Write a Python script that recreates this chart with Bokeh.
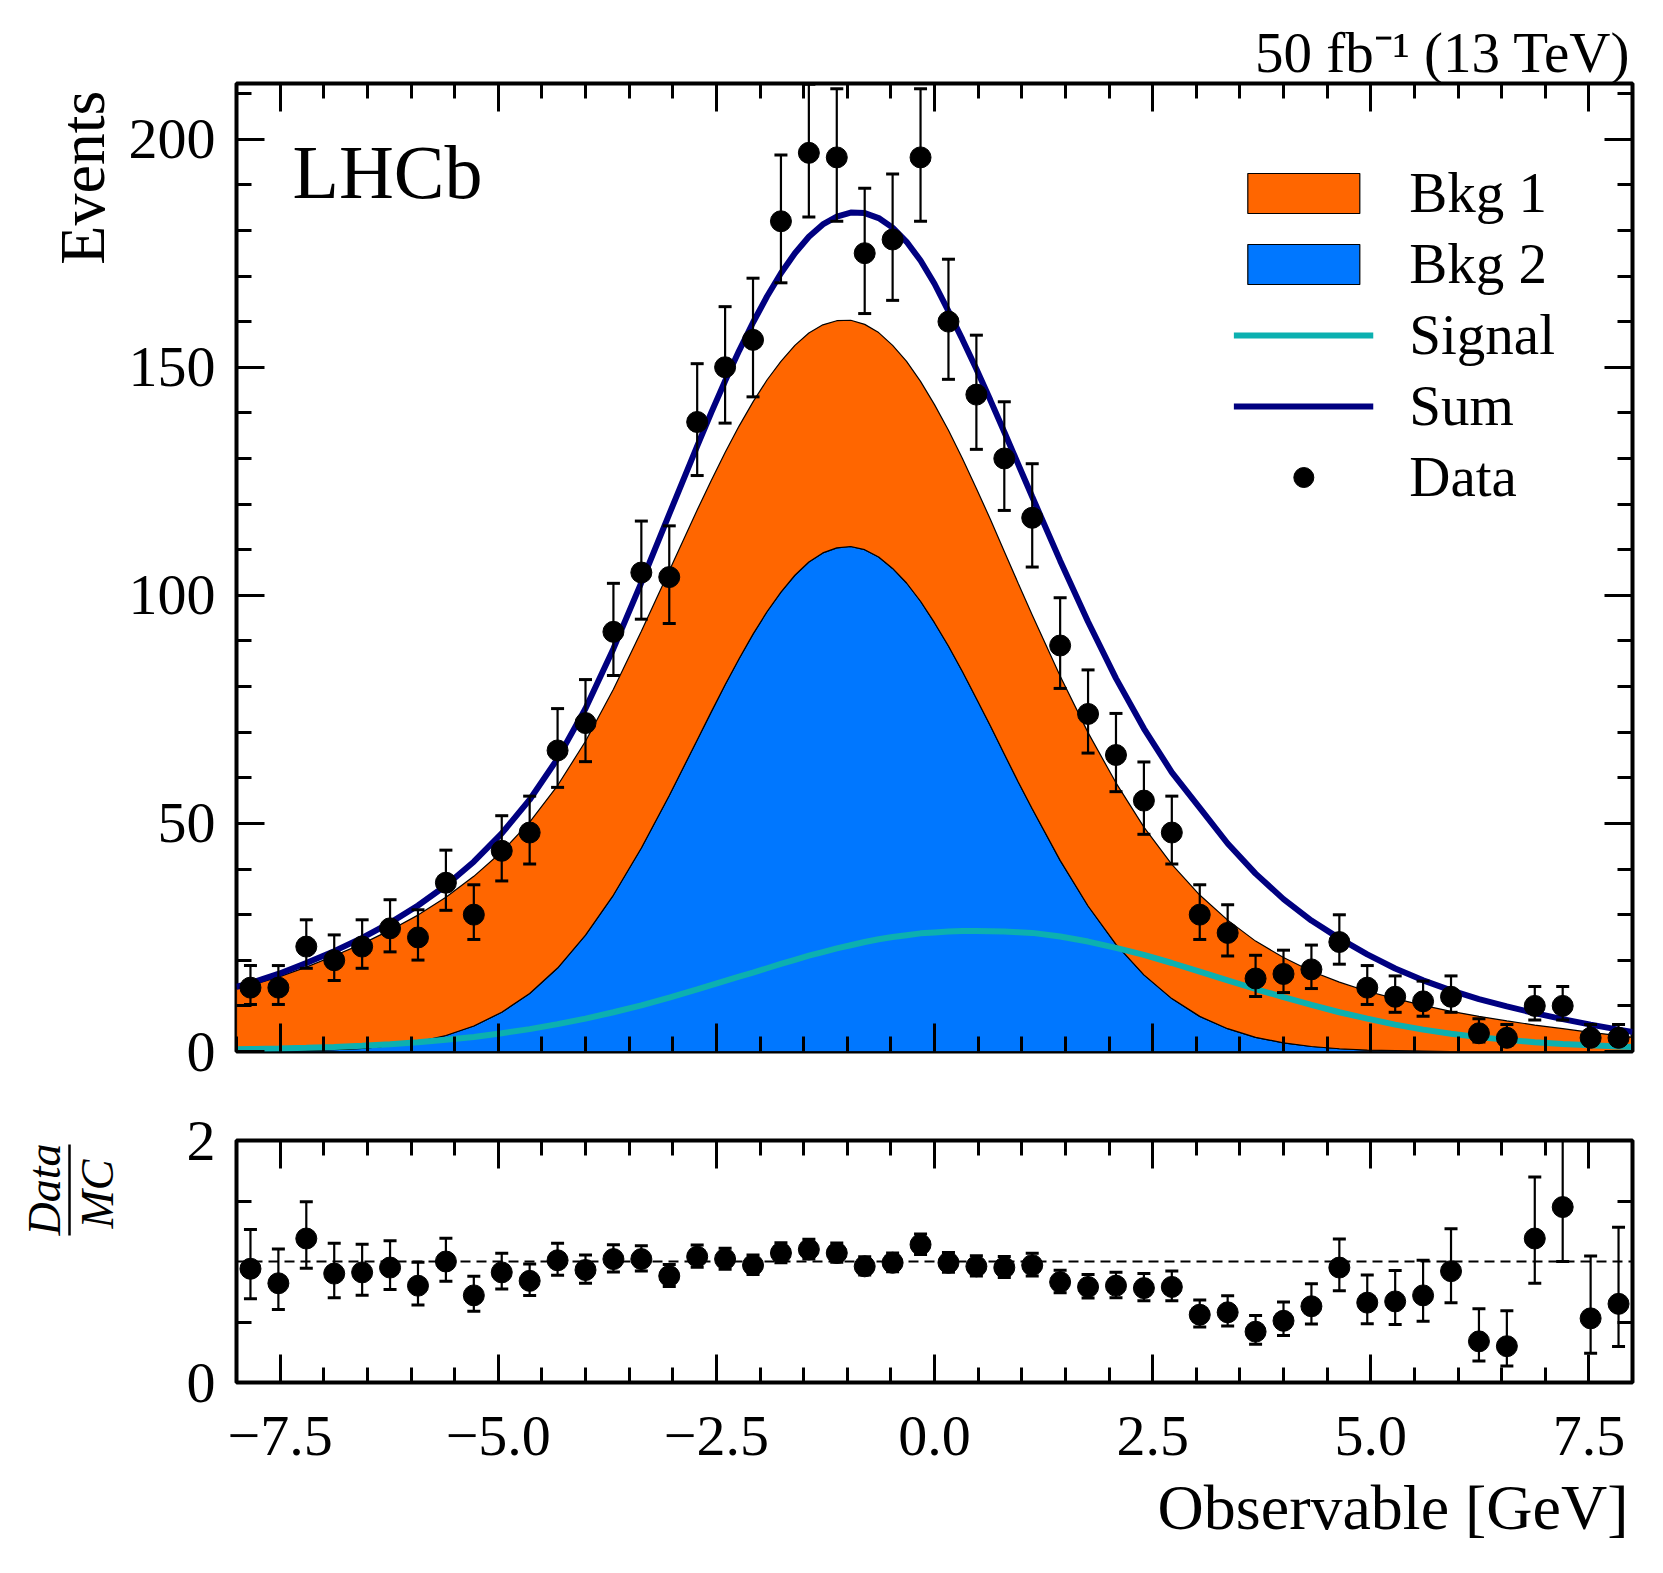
import numpy as np
from bokeh.plotting import figure
from bokeh.layouts import column
from bokeh.models import (Range1d, LinearAxis, SingleIntervalTicker, FixedTicker, Title,
                          CustomJSTickFormatter, Label, Legend, LegendItem, Span)
from bokeh.embed import file_html
from bokeh.resources import INLINE

# ---------------- data ----------------
bin_centers = [-7.84, -7.52, -7.2, -6.88, -6.56, -6.24, -5.92, -5.6, -5.28, -4.96,
               -4.64, -4.32, -4.0, -3.68, -3.36, -3.04, -2.72, -2.4, -2.08, -1.76,
               -1.44, -1.12, -0.8, -0.48, -0.16, 0.16, 0.48, 0.8, 1.12, 1.44,
               1.76, 2.08, 2.4, 2.72, 3.04, 3.36, 3.68, 4.0, 4.32, 4.64,
               4.96, 5.28, 5.6, 5.92, 6.24, 6.56, 6.88, 7.2, 7.52, 7.84]
counts = [14, 14, 23, 20, 23, 27, 25, 37, 30, 44,
          48, 66, 72, 92, 105, 104, 138, 150, 156, 182,
          197, 196, 175, 178, 196, 160, 144, 130, 117, 89,
          74, 65, 55, 48, 30, 26, 16, 17, 18, 24,
          14, 12, 11, 12, 4, 3, 10, 10, 3, 3]
err_lo = [3.69, 3.69, 4.76, 4.43, 4.76, 5.16, 4.96, 6.05, 5.44, 6.61,
          6.90, 8.10, 8.46, 9.57, 10.23, 10.18, 11.74, 12.25, 12.49, 13.49,
          14.04, 14.00, 13.23, 13.34, 14.00, 12.65, 12.00, 11.39, 10.80, 9.41,
          8.58, 8.04, 7.39, 6.90, 5.44, 5.06, 3.95, 4.08, 4.20, 4.86,
          3.69, 3.41, 3.26, 3.41, 1.91, 1.63, 3.11, 3.11, 1.63, 1.63]
err_hi = [4.84, 4.84, 5.87, 5.56, 5.87, 6.27, 6.07, 7.14, 6.55, 7.69,
          7.98, 9.17, 9.53, 10.63, 11.28, 11.23, 12.78, 13.28, 13.52, 14.52,
          15.06, 15.03, 14.26, 14.37, 15.03, 13.68, 13.03, 12.43, 11.85, 10.47,
          9.65, 9.11, 8.47, 7.98, 6.55, 6.17, 5.09, 5.21, 5.33, 5.97,
          4.84, 4.57, 4.43, 4.57, 3.16, 2.92, 4.27, 4.27, 2.92, 2.92]
ratio = [0.94, 0.82, 1.19, 0.90, 0.91, 0.95, 0.80, 1.00, 0.72, 0.91,
         0.84, 1.01, 0.93, 1.02, 1.02, 0.88, 1.04, 1.02, 0.97, 1.07,
         1.10, 1.07, 0.96, 0.99, 1.14, 0.99, 0.96, 0.95, 0.97, 0.83,
         0.79, 0.80, 0.78, 0.79, 0.56, 0.58, 0.42, 0.51, 0.63, 0.95,
         0.66, 0.67, 0.72, 0.92, 0.34, 0.30, 1.19, 1.45, 0.53, 0.65]

curve_x = [-8.0, -7.84, -7.52, -7.2, -6.88, -6.56, -6.24, -5.92, -5.6, -5.28,
           -4.96, -4.64, -4.32, -4.0, -3.68, -3.36, -3.04, -2.72,
           -2.56, -2.4, -2.24, -2.08, -1.92, -1.76, -1.6, -1.44, -1.28, -1.12,
           -0.96, -0.8, -0.64, -0.48, -0.32, -0.16, 0.0, 0.16, 0.32, 0.48,
           0.64, 0.8, 0.96, 1.12,
           1.44, 1.76, 2.08, 2.4, 2.72, 3.04, 3.36, 3.68, 4.0, 4.32,
           4.64, 4.96, 5.28, 5.6, 5.92, 6.24, 6.56, 6.88, 7.2, 7.52, 7.84, 8.0]
bkg1 = [13.7, 14.4, 16.2, 18.3, 20.6, 22.9, 25.3, 27.8, 30.3, 32.8,
        35.2, 37.6, 40.0, 42.5, 45.1, 47.5, 49.3, 50.4,
        50.7, 50.9, 51.0, 50.9, 50.8, 50.6, 50.4, 50.2, 50.0, 49.8,
        49.6, 49.4, 49.2, 48.9, 48.6, 48.2, 47.8, 47.3, 46.7, 46.0,
        45.3, 44.4, 43.5, 42.5,
        40.4, 38.0, 35.4, 32.4, 29.4, 26.6, 23.8, 21.1, 18.7, 16.5,
        14.6, 12.9, 11.4, 10.0, 8.8, 7.7, 6.7, 5.8, 5.0, 4.2, 3.5, 3.1]
bkg2 = [0.0, 0.1, 0.1, 0.2, 0.4, 0.7, 1.3, 2.1, 3.5, 5.6,
        8.6, 12.7, 18.3, 25.5, 34.3, 44.6, 56.1, 68.3,
        74.4, 80.4, 86.1, 91.5, 96.4, 100.7, 104.4, 107.3, 109.3, 110.4,
        110.7, 110.0, 108.4, 105.9, 102.7, 98.7, 94.0, 88.9, 83.3, 77.4,
        71.4, 65.2, 59.1, 53.2,
        41.9, 31.9, 23.5, 16.8, 11.6, 7.7, 5.0, 3.1, 1.9, 1.1,
        0.6, 0.3, 0.2, 0.1, 0.0, 0.0, 0.0, 0.0, 0.0, 0.0, 0.0, 0.0]
signal = [0.5, 0.55, 0.65, 0.8, 1.0, 1.25, 1.6, 2.05, 2.6, 3.2,
          4.0, 4.9, 6.0, 7.2, 8.6, 10.1, 11.8, 13.6,
          14.55, 15.5, 16.4, 17.3, 18.25, 19.2, 20.1, 21.0, 21.8, 22.6,
          23.3, 24.0, 24.6, 25.1, 25.5, 25.9, 26.1, 26.3, 26.4, 26.4,
          26.35, 26.3, 26.15, 26.0,
          25.2, 24.1, 22.7, 21.2, 19.4, 17.5, 15.6, 13.7, 11.9, 10.2,
          8.6, 7.2, 5.9, 4.8, 3.9, 3.15, 2.55, 2.05, 1.65, 1.35, 1.1, 1.0]
total = [14.2, 15.0, 17.0, 19.4, 22.0, 24.9, 28.2, 32.0, 36.4, 41.6,
         47.8, 55.2, 64.2, 75.2, 88.3, 102.8, 117.8, 132.7,
         140.0, 147.0, 153.6, 159.8, 165.5, 170.6, 175.0, 178.6, 181.3, 183.0,
         183.9, 183.8, 182.7, 180.6, 177.5, 173.4, 168.3, 162.3, 156.1, 149.6,
         142.8, 135.8, 128.7, 121.6,
         107.6, 94.2, 81.8, 70.8, 61.2, 53.4, 45.6, 39.0, 33.4, 28.7,
         24.8, 21.3, 18.2, 15.6, 13.4, 11.5, 9.9, 8.4, 7.1, 5.9, 4.8, 4.3]

legend_labels = ["Bkg 1", "Bkg 2", "Signal", "Sum", "Data"]

# ---------------- styling ----------------
FONT = "Liberation Serif"
C_BKG1 = "#ff6600"
C_BKG2 = "#0077ff"
C_SIG = "#0cb0b0"
C_SUM = "#000080"
X_MIN, X_MAX = -8.0, 8.0
Y_MAX = 212.2
R_MAX = 2.0

W = 1655
FRAME_L, FRAME_R = 236, 23


def style_axis(ax, labels=True):
    ax.axis_line_color = None
    ax.major_tick_in = 28
    ax.major_tick_out = 0
    ax.minor_tick_in = 15
    ax.minor_tick_out = 0
    ax.major_tick_line_width = 3
    ax.minor_tick_line_width = 3
    ax.major_tick_line_color = "black"
    ax.minor_tick_line_color = "black"
    ax.major_label_text_font = FONT
    if labels:
        ax.major_label_text_font_size = "58px"
        ax.major_label_text_color = "black"
    else:
        ax.major_label_text_font_size = "1px"
        ax.major_label_text_color = None
        ax.major_label_standoff = 0


def spacer(gap, tick_value):
    # invisible axis that only reserves `gap` pixels next to the previous panel
    ax = LinearAxis(ticker=FixedTicker(ticks=[tick_value], minor_ticks=[]))
    ax.axis_line_color = None
    ax.major_tick_in = 0
    ax.major_tick_out = gap
    ax.major_tick_line_color = None
    ax.minor_tick_in = 0
    ax.minor_tick_out = 0
    ax.major_label_text_font_size = "1px"
    ax.major_label_text_color = None
    ax.major_label_standoff = 0
    return ax


def title(text, size, offset, valign, style="normal"):
    return Title(text=text, align="right", vertical_align=valign, offset=offset, standoff=0,
                 text_font=FONT, text_font_size=size, text_font_style=style,
                 text_color="black")


def base_fig(height, top, bottom, y_range, x_range):
    p = figure(width=W, height=height, x_range=x_range, y_range=y_range,
               output_backend="svg", toolbar_location=None,
               min_border_left=FRAME_L, min_border_right=FRAME_R,
               min_border_top=top, min_border_bottom=bottom)
    p.xgrid.visible = False
    p.ygrid.visible = False
    p.outline_line_color = "black"
    p.outline_line_width = 4
    p.outline_line_alpha = 1.0
    p.background_fill_color = "white"
    p.border_fill_color = "white"
    return p


xr = Range1d(X_MIN, X_MAX)

# ================= main panel =================
p1 = base_fig(1096, 83, 45, Range1d(0, Y_MAX), xr)

cx = np.array(curve_x)
b1 = np.array(bkg1)
b2 = np.array(bkg2)
stack1 = b2 + b1

r_b2 = p1.patch(np.concatenate([cx, cx[::-1]]), np.concatenate([b2, np.zeros_like(b2)]),
                fill_color=C_BKG2, line_color="black", line_width=1.2)
r_b1 = p1.patch(np.concatenate([cx, cx[::-1]]), np.concatenate([stack1, b2[::-1]]),
                fill_color=C_BKG1, line_color="black", line_width=1.2)
r_sig = p1.line(curve_x, signal, line_color=C_SIG, line_width=6)
r_sum = p1.line(curve_x, total, line_color=C_SUM, line_width=6)

bc = np.array(bin_centers)
n = np.array(counts, dtype=float)
lo = n - np.array(err_lo)
hi = n + np.array(err_hi)
p1.segment(bc, lo, bc, hi, line_color="black", line_width=2.2)
p1.scatter(bc, lo, marker="dash", size=13, line_color="black", line_width=3)
p1.scatter(bc, hi, marker="dash", size=13, line_color="black", line_width=3)
r_data = p1.scatter(bc, n, marker="circle", size=21, fill_color="black", line_color="black")

x1 = p1.below[0]
y1 = p1.left[0]
x1.ticker = SingleIntervalTicker(interval=2.5, num_minor_ticks=5)
y1.ticker = SingleIntervalTicker(interval=50, num_minor_ticks=5)
style_axis(x1, labels=False)
style_axis(y1, labels=True)
y1.major_label_standoff = 21

top1 = LinearAxis(ticker=SingleIntervalTicker(interval=2.5, num_minor_ticks=5))
right1 = LinearAxis(ticker=SingleIntervalTicker(interval=50, num_minor_ticks=5))
style_axis(top1, labels=False)
style_axis(right1, labels=False)
p1.add_layout(top1, "above")
p1.add_layout(right1, "right")
p1.add_layout(title("50 fb\u207b\u00b9 (13 TeV)", "57px", 2, "bottom"), "above")

p1.add_layout(spacer(8, 100), "left")
p1.add_layout(title("Events", "64px", 7, "bottom"), "left")

legend = Legend(items=[LegendItem(label=legend_labels[0], renderers=[r_b1]),
                       LegendItem(label=legend_labels[1], renderers=[r_b2]),
                       LegendItem(label=legend_labels[2], renderers=[r_sig]),
                       LegendItem(label=legend_labels[3], renderers=[r_sum]),
                       LegendItem(label=legend_labels[4], renderers=[r_data])],
                location="top_right", glyph_width=140, glyph_height=50,
                label_text_font=FONT, label_text_font_size="57px", label_text_color="black",
                label_standoff=36, spacing=6, padding=9, margin=77,
                border_line_color=None, background_fill_alpha=0)
p1.add_layout(legend)

p1.add_layout(Label(x=X_MIN, y=Y_MAX, x_offset=56, y_offset=-88, text="LHCb",
                    text_align="left", text_baseline="alphabetic",
                    text_font=FONT, text_font_size="76px", text_color="black"))

# ================= ratio panel =================
p2 = base_fig(471, 44, 185, Range1d(0, R_MAX), xr)
p2.add_layout(Span(location=1.0, dimension="width", line_color="black", line_width=1.8,
                   line_dash="10 6"))

rt = np.array(ratio)
rlo = rt - rt * np.array(err_lo) / n
rhi = rt + rt * np.array(err_hi) / n
p2.segment(bc, rlo, bc, rhi, line_color="black", line_width=2.2)
p2.scatter(bc, rlo, marker="dash", size=13, line_color="black", line_width=3)
p2.scatter(bc, rhi, marker="dash", size=13, line_color="black", line_width=3)
p2.scatter(bc, rt, marker="circle", size=21, fill_color="black", line_color="black")

x2 = p2.below[0]
y2 = p2.left[0]
x2.ticker = SingleIntervalTicker(interval=2.5, num_minor_ticks=5)
y2.ticker = FixedTicker(ticks=[0, 2], minor_ticks=[0.5, 1.5])
style_axis(x2, labels=True)
style_axis(y2, labels=True)
x2.major_label_standoff = 34
y2.major_label_standoff = 21
x2.formatter = CustomJSTickFormatter(
    code="return (tick < 0 ? '\u2212' : '') + Math.abs(tick).toFixed(1);")

p2.add_layout(spacer(14, 0.0), "below")
p2.add_layout(title("Observable [GeV]", "64px", 4, "top"), "below")

# ratio label: MC (denominator), fraction bar, Data (numerator)
p2.add_layout(spacer(61, 1.0), "left")
p2.add_layout(title("MC", "46px", 19, "bottom", style="italic"), "left")
bar_axis = LinearAxis(ticker=FixedTicker(ticks=[]), bounds=(R_MAX - 95 / 121.0, R_MAX - 4 / 121.0))
bar_axis.major_tick_in = 0
bar_axis.major_tick_out = 0
bar_axis.minor_tick_in = 0
bar_axis.minor_tick_out = 0
bar_axis.major_label_text_font_size = "1px"
bar_axis.major_label_text_color = None
bar_axis.major_label_standoff = 0
bar_axis.axis_line_color = "black"
bar_axis.axis_line_width = 2.5
p2.add_layout(bar_axis, "left")
p2.add_layout(title("Data", "46px", 3, "bottom", style="italic"), "left")

top2 = LinearAxis(ticker=SingleIntervalTicker(interval=2.5, num_minor_ticks=5))
right2 = LinearAxis(ticker=FixedTicker(ticks=[0, 2], minor_ticks=[0.5, 1.5]))
style_axis(top2, labels=False)
style_axis(right2, labels=False)
p2.add_layout(top2, "above")
p2.add_layout(right2, "right")

layout = column(p1, p2)
with open("out.html", "w", encoding="utf-8") as f:
    f.write(file_html(layout, INLINE))
